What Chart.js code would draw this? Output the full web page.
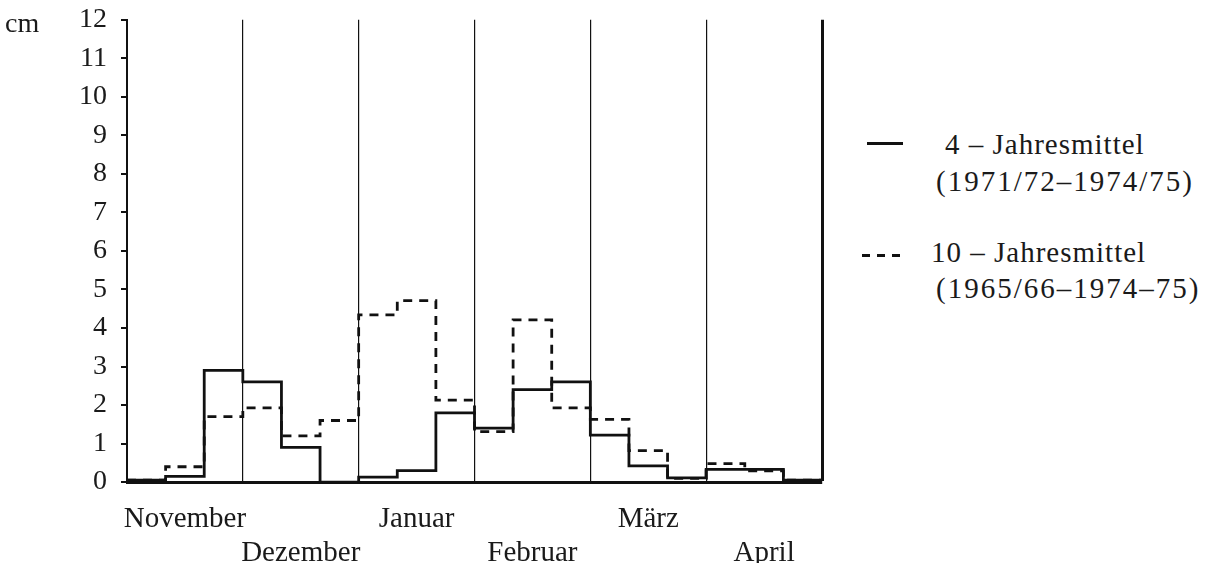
<!DOCTYPE html>
<html>
<head>
<meta charset="utf-8">
<script src="https://cdn.jsdelivr.net/npm/chart.js@4.4.1/dist/chart.umd.min.js"></script>
<style>
  html, body { margin: 0; padding: 0; background: #fff; overflow: hidden; }
  body { width: 1208px; height: 563px; position: relative; font-family: 'Liberation Serif', 'Times New Roman', serif; color: #1a1a1a; }
  #wrap { position: absolute; left: 0; top: -11px; width: 842px; height: 601px; }
  .t { position: absolute; font-size: 29px; line-height: 29px; white-space: nowrap; }
  .solid { position: absolute; height: 3px; background: #111; }
  .dash { position: absolute; height: 3px; background: repeating-linear-gradient(90deg, #111 0 8px, transparent 8px 15px); }
</style>
</head>
<body>
<div id="wrap"><canvas id="snow"></canvas></div>
<div class="t" style="left:5px;top:8px;font-size:28px;">cm</div>

<div class="solid" style="left:867px;top:142px;width:36px;"></div>
<div class="t" style="left:945px;top:130px;letter-spacing:1px;">4 – Jahresmittel</div>
<div class="t" style="left:936px;top:167px;letter-spacing:2px;">(1971/72–1974/75)</div>

<div class="dash" style="left:862px;top:254px;width:38px;"></div>
<div class="t" style="left:931px;top:238px;letter-spacing:1px;">10 – Jahresmittel</div>
<div class="t" style="left:936px;top:274px;letter-spacing:2px;">(1965/66–1974–75)</div>

<script>
// Schneehöhe je Dekade, November bis April (3 Dekaden pro Monat)
const months = ['November', 'Dezember', 'Januar', 'Februar', 'März', 'April'];
const mean4 = [0.05, 0.15, 2.9, 2.6, 0.9, 0, 0.13, 0.3, 1.8, 1.4, 2.4, 2.6, 1.22, 0.42, 0.11, 0.33, 0.33, 0.05];
const mean10 = [0.05, 0.4, 1.7, 1.93, 1.2, 1.6, 4.34, 4.71, 2.13, 1.31, 4.21, 1.93, 1.63, 0.82, 0.1, 0.48, 0.29, 0.05];

const SERIF = "'Liberation Serif', 'Times New Roman', serif";
const INK = '#111';

// start edge of each decade, plus the closing edge
function steps(vals){
  const pts = vals.map((v, i) => ({ x: i, y: v }));
  pts.push({ x: vals.length, y: vals[vals.length - 1] });
  return pts;
}

const nDec = mean4.length;

new Chart(document.getElementById('snow'), {
  type: 'line',
  data: {
    datasets: [
      { label: '4 – Jahresmittel', data: steps(mean4), borderColor: INK, borderWidth: 2.8, stepped: 'before', pointRadius: 0, fill: false },
      { label: '10 – Jahresmittel', data: steps(mean10), borderColor: INK, borderWidth: 2.8, borderDash: [9, 7], stepped: 'before', pointRadius: 0, fill: false }
    ]
  },
  options: {
    responsive: true, maintainAspectRatio: false, animation: false,
    layout: { padding: { left: 65, right: 18, top: 4, bottom: 0 } },
    plugins: { legend: { display: false }, tooltip: { enabled: false } },
    scales: {
      x: {
        type: 'linear', min: 0, max: nDec,
        afterBuildTicks: ax => {
          const t = [];
          for (let v = 0; v <= nDec; v += 1.5) t.push({ value: v });
          ax.ticks = t;
        },
        grid: {
          drawTicks: false,
          color: c => (c.tick && c.tick.value % 3 === 0) ? INK : 'rgba(0,0,0,0)',
          lineWidth: c => (c.tick && c.tick.value === nDec) ? 3 : 1.2
        },
        border: { color: INK, width: 3 },
        ticks: {
          autoSkip: false, maxRotation: 0, padding: 20, color: '#1a1a1a',
          font: { family: SERIF, size: 29, lineHeight: 1.17 },
          callback: v => {
            if (v % 3 === 0) return '';
            const k = Math.round((v - 1.5) / 3);
            return k % 2 === 0 ? [months[k], ''] : ['', months[k]];
          }
        }
      },
      y: {
        min: 0, max: 12,
        ticks: { stepSize: 1, autoSkip: false, padding: 14, color: '#1a1a1a', font: { family: SERIF, size: 28 } },
        grid: { drawOnChartArea: false, drawTicks: true, tickLength: 6, color: INK, lineWidth: 2 },
        border: { color: INK, width: 2 }
      }
    }
  }
});
</script>
</body>
</html>
